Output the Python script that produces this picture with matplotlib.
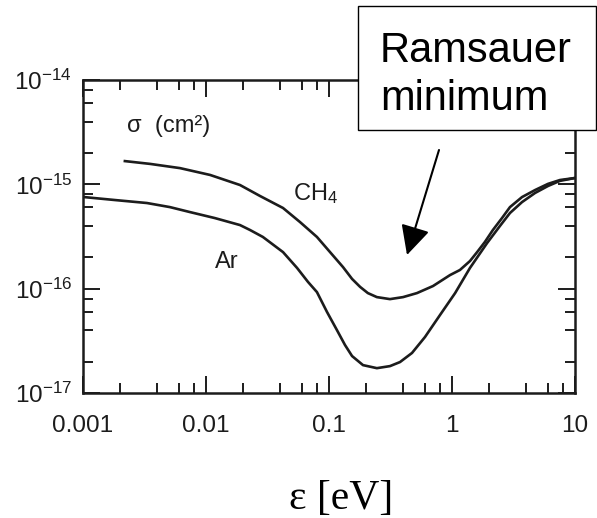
import matplotlib
matplotlib.use("Agg")
import matplotlib.pyplot as plt
from matplotlib.patches import Rectangle
from matplotlib.ticker import LogLocator, NullFormatter

plt.rcParams["font.family"] = ["Liberation Sans", "DejaVu Sans"]
plt.rcParams["mathtext.fontset"] = "custom"
plt.rcParams["mathtext.rm"] = "Liberation Sans"
plt.rcParams["mathtext.it"] = "Liberation Sans:italic"
plt.rcParams["mathtext.bf"] = "Liberation Sans:bold"

# Momentum-transfer cross sections (cm^2) versus electron energy (eV)
ch4_energy = [0.00219, 0.00351, 0.00615, 0.0108, 0.0189, 0.0275, 0.0423, 0.0581,
              0.0798, 0.102, 0.130, 0.154, 0.179, 0.207, 0.245, 0.313, 0.400,
              0.519, 0.701, 0.964, 1.16, 1.40, 1.60, 1.85, 2.15, 2.55, 2.96,
              3.71, 4.73, 6.03, 7.55, 10.0]
ch4_sigma = [1.67e-15, 1.57e-15, 1.43e-15, 1.23e-15, 9.85e-16, 7.73e-16, 5.93e-16,
             4.35e-16, 3.13e-16, 2.24e-16, 1.61e-16, 1.24e-16, 1.04e-16, 9.07e-17,
             8.30e-17, 7.94e-17, 8.30e-17, 9.07e-17, 1.06e-16, 1.35e-16, 1.51e-16,
             1.84e-16, 2.24e-16, 2.80e-16, 3.65e-16, 4.75e-16, 6.05e-16, 7.55e-16,
             8.81e-16, 1.01e-15, 1.10e-15, 1.15e-15]

ar_energy = [0.00102, 0.00182, 0.00331, 0.00509, 0.00741, 0.0118, 0.0189, 0.0228,
             0.0290, 0.0423, 0.0550, 0.0675, 0.0798, 0.0964, 0.116, 0.135, 0.154,
             0.189, 0.245, 0.313, 0.378, 0.473, 0.603, 0.798, 1.06, 1.40, 1.93,
             2.45, 2.96, 3.71, 4.73, 6.03, 7.55, 10.0]
ar_sigma = [7.55e-16, 7.07e-16, 6.62e-16, 6.05e-16, 5.42e-16, 4.75e-16, 4.07e-16,
            3.65e-16, 3.13e-16, 2.24e-16, 1.58e-16, 1.16e-16, 9.27e-17, 5.97e-17,
            4.01e-17, 2.88e-17, 2.26e-17, 1.85e-17, 1.73e-17, 1.81e-17, 1.98e-17,
            2.42e-17, 3.44e-17, 5.58e-17, 9.07e-17, 1.58e-16, 2.74e-16, 3.98e-16,
            5.31e-16, 6.76e-16, 8.26e-16, 9.64e-16, 1.08e-15, 1.15e-15]

x_ticks = [0.001, 0.01, 0.1, 1, 10]
x_tick_labels = ["0.001", "0.01", "0.1", "1", "10"]
y_ticks = [1e-17, 1e-16, 1e-15, 1e-14]
y_tick_labels = [r"$\mathregular{10^{-17}}$", r"$\mathregular{10^{-16}}$",
                 r"$\mathregular{10^{-15}}$", r"$\mathregular{10^{-14}}$"]

ink = "#1c1c1c"
W, H = 597, 518

fig = plt.figure(figsize=(W / 100, H / 100), dpi=100)
ax = fig.add_axes([83 / W, 1 - 393 / H, 492 / W, 313 / H])

ax.plot(ch4_energy, ch4_sigma, color=ink, lw=1.9, solid_joinstyle="round")
ax.plot(ar_energy, ar_sigma, color=ink, lw=1.9, solid_joinstyle="round")

ax.set_xscale("log")
ax.set_yscale("log")
ax.set_xlim(1e-3, 10)
ax.set_ylim(1e-17, 1e-14)

ax.set_xticks(x_ticks)
ax.set_xticklabels(x_tick_labels)
ax.set_yticks(y_ticks)
ax.set_yticklabels(y_tick_labels)
ax.xaxis.set_minor_locator(LogLocator(base=10, subs=(2, 4, 6, 8)))
ax.yaxis.set_minor_locator(LogLocator(base=10, subs=(2, 4, 6, 8)))
ax.xaxis.set_minor_formatter(NullFormatter())
ax.yaxis.set_minor_formatter(NullFormatter())

ax.tick_params(which="both", direction="in", top=True, right=True,
               color=ink, width=1.4)
ax.tick_params(which="major", length=12)
ax.tick_params(which="minor", length=7)
ax.tick_params(axis="x", which="major", labelsize=17.5, pad=16, labelcolor=ink)
ax.tick_params(axis="y", which="major", labelsize=17.5, pad=8, labelcolor=ink)
for s in ax.spines.values():
    s.set_linewidth(1.8)
    s.set_color(ink)

ax.text(0.089, 0.834, "σ  (cm²)", transform=ax.transAxes, fontsize=17,
        color=ink, ha="left", va="baseline")
ax.text(0.427, 0.617, r"CH$_\mathregular{4}$", transform=ax.transAxes,
        fontsize=17, color=ink, ha="left", va="baseline")
ax.text(0.268, 0.399, "Ar", transform=ax.transAxes, fontsize=17,
        color=ink, ha="left", va="baseline")

# Callout box with arrow pointing at the dip
fig.add_artist(Rectangle((358 / W, 1 - 130 / H), (595.5 - 358) / W, 124 / H,
                         transform=fig.transFigure, facecolor="white",
                         edgecolor="black", lw=1.0))
fig.text(380 / W, 1 - 110 / H, "Ramsauer\nminimum", fontsize=30,
         family="Liberation Sans", ha="left", va="baseline",
         linespacing=1.25, color="black")
ax.annotate("", xy=(407, H - 255), xycoords="figure pixels",
            xytext=(439, H - 150), textcoords="figure pixels",
            arrowprops=dict(arrowstyle="-|>,head_length=1.0,head_width=0.5",
                            mutation_scale=18, color="black", lw=1.5,
                            shrinkA=0, shrinkB=0))

fig.text(341 / W, 9 / H, "ε [eV]", fontsize=30, family="Liberation Serif",
         ha="center", va="baseline", color="black")

fig.savefig("out.png", dpi=100)
